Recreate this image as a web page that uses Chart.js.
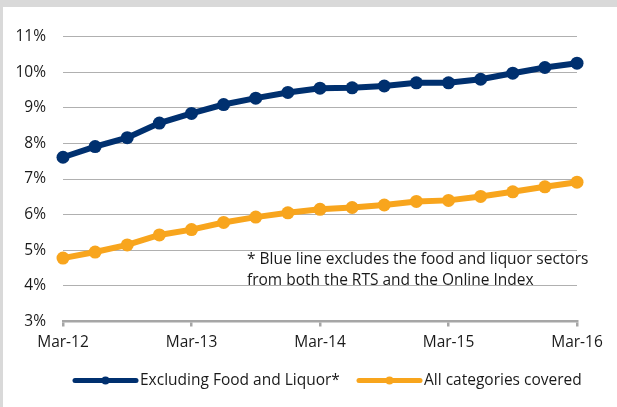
<!DOCTYPE html>
<html>
<head>
<meta charset="utf-8">
<script src="https://cdn.jsdelivr.net/npm/chart.js@4/dist/chart.umd.min.js"></script>
<style>
  html, body { margin: 0; padding: 0; }
  body { width: 617px; height: 407px; background: #d9d9d9; position: relative; overflow: hidden; }
  #wrap { position: absolute; left: 3px; top: 7px; width: 614px; height: 400px; background: #ffffff; }
  canvas { display: block; }
</style>
</head>
<body>
<div id="wrap"><canvas id="c" width="614" height="400"></canvas></div>
<script>
// ---- data ----
const quarters = ["Mar-12","Jun-12","Sep-12","Dec-12","Mar-13","Jun-13","Sep-13","Dec-13",
                  "Mar-14","Jun-14","Sep-14","Dec-14","Mar-15","Jun-15","Sep-15","Dec-15","Mar-16"];
const excludingFoodLiquor = [7.61, 7.91, 8.16, 8.57, 8.84, 9.09, 9.27, 9.43, 9.55, 9.56, 9.61, 9.70, 9.70, 9.80, 9.97, 10.13, 10.25];
const allCategories = [4.78, 4.95, 5.15, 5.43, 5.58, 5.78, 5.93, 6.05, 6.15, 6.20, 6.27, 6.37, 6.40, 6.51, 6.64, 6.78, 6.91];
const seriesNames = ["Excluding Food and Liquor*", "All categories covered"];
const noteLines = ["* Blue line excludes the food and liquor sectors", "from both the RTS and the Online Index"];
const yMin = 3, yMax = 11, yStep = 1;

const BLUE = "#00306f";
const ORANGE = "#f8a51d";
const FONT = "'Open Sans', Lato, sans-serif";
const TEXT = "#1a1a1a";
const FS = 15.5;

const overlay = {
  id: "overlay",
  afterDraw(chart) {
    const ctx = chart.ctx;
    const ca = chart.chartArea;
    ctx.save();
    // annotation note
    ctx.fillStyle = TEXT;
    ctx.font = FS + "px " + FONT;
    ctx.textAlign = "left";
    ctx.textBaseline = "alphabetic";
    ctx.fillText(noteLines[0], ca.left + 184, ca.top + 227);
    ctx.fillText(noteLines[1], ca.left + 184, ca.top + 248);
    // legend
    const ly = ca.bottom + 59;
    const items = [
      { x: ca.left + 12, color: BLUE, text: seriesNames[0] },
      { x: ca.left + 296, color: ORANGE, text: seriesNames[1] }
    ];
    items.forEach(it => {
      ctx.strokeStyle = it.color;
      ctx.lineWidth = 5;
      ctx.lineCap = "round";
      ctx.beginPath();
      ctx.moveTo(it.x, ly);
      ctx.lineTo(it.x + 61, ly);
      ctx.stroke();
      ctx.fillStyle = it.color;
      ctx.beginPath();
      ctx.arc(it.x + 30.5, ly, 4, 0, Math.PI * 2);
      ctx.fill();
      ctx.fillStyle = TEXT;
      ctx.font = FS + "px " + FONT;
      ctx.textBaseline = "middle";
      ctx.fillText(it.text, it.x + 65, ly);
    });
    ctx.restore();
  }
};

new Chart(document.getElementById("c"), {
  type: "line",
  data: {
    labels: quarters,
    datasets: [
      { label: seriesNames[0], data: excludingFoodLiquor, borderColor: BLUE, backgroundColor: BLUE,
        borderWidth: 6, pointRadius: 6.5, pointBorderWidth: 0, pointBackgroundColor: BLUE, tension: 0, clip: false },
      { label: seriesNames[1], data: allCategories, borderColor: ORANGE, backgroundColor: ORANGE,
        borderWidth: 6, pointRadius: 6.5, pointBorderWidth: 0, pointBackgroundColor: ORANGE, tension: 0, clip: false }
    ]
  },
  options: {
    responsive: false,
    animation: false,
    devicePixelRatio: 1,
    layout: { padding: { top: 29.5, right: 40, bottom: 45.5, left: 0 } },
    plugins: { legend: { display: false }, tooltip: { enabled: false } },
    scales: {
      x: {
        type: "category",
        offset: false,
        afterFit(s) { s.height = 40; },
        border: { display: true, color: "#a6a6a6", width: 2.5 },
        grid: {
          drawOnChartArea: false,
          drawTicks: true,
          tickLength: 5,
          lineWidth: 2.5,
          color: (c) => (c.index % 4 === 0 ? "#a6a6a6" : "rgba(0,0,0,0)")
        },
        ticks: {
          autoSkip: false, maxRotation: 0, padding: 7,
          color: TEXT, font: { family: FONT, size: FS },
          callback: function (v, i) { return i % 4 === 0 ? quarters[i] : ""; }
        }
      },
      y: {
        min: yMin, max: yMax,
        afterFit(s) { s.width = 60; },
        border: { display: false },
        grid: { color: "#b0b0b0", lineWidth: 1, drawTicks: false },
        ticks: {
          stepSize: yStep, padding: 17,
          color: TEXT, font: { family: FONT, size: FS },
          callback: (v) => v + "%"
        }
      }
    }
  },
  plugins: [overlay]
});
</script>
</body>
</html>
